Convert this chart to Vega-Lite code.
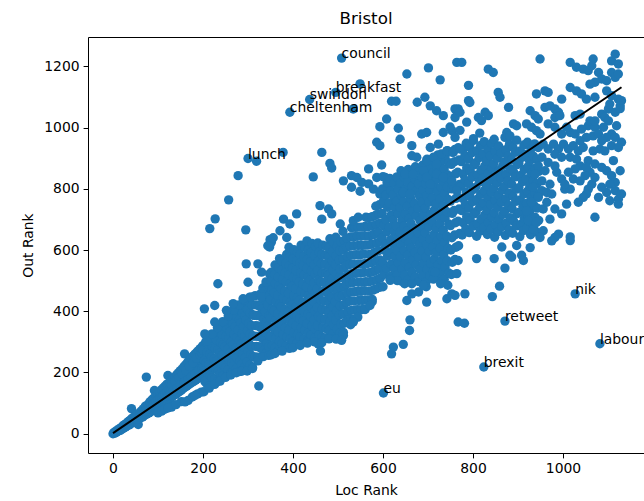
{"$schema":"https://vega.github.io/schema/vega-lite/v6.json","width":556,"height":416,"autosize":{"type":"none"},"padding":{"left":88,"top":37,"right":0,"bottom":48},"background":"white",
"title":{"text":"Bristol","font":"DejaVu Sans","fontSize":16.7,"fontWeight":"normal","color":"black","offset":9,"anchor":"middle"},
"config":{"view":{"stroke":null},"axis":{"domainColor":"black","domainWidth":1,"tickColor":"black","tickWidth":1,"tickSize":4.9,"labelFont":"DejaVu Sans","labelFontSize":13.9,"labelColor":"black","labelPadding":4,"titleFont":"DejaVu Sans","titleFontSize":13.9,"titleFontWeight":"normal","titleColor":"black","grid":false,"format":"d"}},
"datasets":{
"fit":[{"loc":0,"out":2},{"loc":1130,"out":1132}],
"lab":[{"loc":508,"out":1227,"word":"council"},{"loc":495,"out":1115,"word":"breakfast"},{"loc":437,"out":1092,"word":"swindon"},{"loc":393,"out":1050,"word":"cheltenham"},{"loc":300,"out":899,"word":"lunch"},{"loc":601,"out":133,"word":"eu"},{"loc":824,"out":218,"word":"brexit"},{"loc":871,"out":368,"word":"retweet"},{"loc":1027,"out":457,"word":"nik"},{"loc":1082,"out":294,"word":"labour"}],
"pts":[
{"loc":0,"out":0},{"loc":2,"out":4},{"loc":4,"out":2},{"loc":6,"out":8},{"loc":8,"out":5},{"loc":10,"out":12},{"loc":12,"out":9},{"loc":14,"out":16},{"loc":16,"out":11},{"loc":18,"out":20},{"loc":20,"out":15},{"loc":22,"out":26},{"loc":24,"out":19},{"loc":26,"out":30},{"loc":28,"out":22},{"loc":30,"out":34},{"loc":32,"out":26},{"loc":34,"out":40},{"loc":36,"out":29},{"loc":38,"out":44},{"loc":40,"out":33},{"loc":41,"out":82},{"loc":42,"out":50},{"loc":44,"out":37},{"loc":46,"out":54},{"loc":48,"out":40},{"loc":50,"out":58},{"loc":52,"out":43},{"loc":54,"out":64},{"loc":56,"out":30},{"loc":57,"out":47},{"loc":60,"out":70},{"loc":62,"out":52},{"loc":64,"out":76},{"loc":66,"out":55},{"loc":68,"out":82},{"loc":70,"out":60},{"loc":72,"out":90},{"loc":74,"out":185},{"loc":75,"out":64},{"loc":78,"out":96},{"loc":80,"out":68},{"loc":82,"out":104},{"loc":84,"out":72},{"loc":86,"out":110},{"loc":88,"out":78},{"loc":90,"out":116},{"loc":92,"out":141},{"loc":94,"out":82},{"loc":96,"out":124},{"loc":98,"out":88},{"loc":100,"out":130},{"loc":102,"out":92},{"loc":104,"out":136},{"loc":106,"out":96},{"loc":108,"out":144},{"loc":110,"out":100},{"loc":112,"out":150},{"loc":114,"out":104},{"loc":116,"out":156},{"loc":118,"out":108},{"loc":120,"out":162},{"loc":122,"out":190},{"loc":124,"out":112},{"loc":126,"out":168},{"loc":128,"out":116},{"loc":130,"out":87},{"loc":130,"out":176},{"loc":132,"out":122},{"loc":134,"out":180},{"loc":136,"out":126},{"loc":138,"out":186},{"loc":140,"out":130},{"loc":142,"out":194},{"loc":144,"out":134},{"loc":146,"out":200},{"loc":148,"out":138},{"loc":150,"out":206},{"loc":152,"out":105},{"loc":152,"out":142},{"loc":154,"out":212},{"loc":156,"out":148},{"loc":158,"out":220},{"loc":159,"out":261},{"loc":160,"out":152},{"loc":162,"out":226},{"loc":164,"out":156},{"loc":166,"out":234},{"loc":167,"out":109},{"loc":168,"out":160},{"loc":170,"out":240},{"loc":172,"out":164},{"loc":174,"out":248},{"loc":176,"out":120},{"loc":176,"out":168},{"loc":178,"out":254},{"loc":180,"out":172},{"loc":182,"out":260},{"loc":184,"out":176},{"loc":186,"out":266},{"loc":188,"out":130},{"loc":188,"out":180},{"loc":190,"out":272},{"loc":192,"out":184},{"loc":194,"out":278},{"loc":196,"out":136},{"loc":196,"out":190},{"loc":198,"out":284},{"loc":200,"out":194},{"loc":200,"out":288},
{"loc":60,"out":60},{"loc":64,"out":64},{"loc":68,"out":70},{"loc":72,"out":74},{"loc":76,"out":80},{"loc":80,"out":86},{"loc":84,"out":90},{"loc":88,"out":94},{"loc":92,"out":100},{"loc":96,"out":104},{"loc":100,"out":110},{"loc":104,"out":114},{"loc":108,"out":120},{"loc":112,"out":126},{"loc":116,"out":130},{"loc":120,"out":136},{"loc":124,"out":142},{"loc":128,"out":146},{"loc":132,"out":152},{"loc":136,"out":156},{"loc":140,"out":160},{"loc":144,"out":166},{"loc":148,"out":172},{"loc":152,"out":178},{"loc":156,"out":184},{"loc":160,"out":188},{"loc":164,"out":192},{"loc":168,"out":198},{"loc":172,"out":204},{"loc":176,"out":210},{"loc":180,"out":216},{"loc":184,"out":222},{"loc":188,"out":228},{"loc":192,"out":232},{"loc":196,"out":238},{"loc":200,"out":244},
{"loc":122,"out":124},{"loc":126,"out":128},{"loc":130,"out":160},{"loc":134,"out":140},{"loc":138,"out":170},{"loc":142,"out":150},{"loc":146,"out":182},{"loc":150,"out":160},{"loc":154,"out":195},{"loc":158,"out":168},{"loc":162,"out":206},{"loc":166,"out":176},{"loc":170,"out":220},{"loc":174,"out":186},{"loc":178,"out":232},{"loc":182,"out":196},{"loc":186,"out":246},{"loc":190,"out":206},{"loc":194,"out":256},{"loc":198,"out":214},{"loc":198,"out":262},
{"loc":100,"out":68},{"loc":108,"out":74},{"loc":115,"out":80},{"loc":122,"out":84},{"loc":140,"out":95},{"loc":160,"out":104},{"loc":182,"out":125},
{"loc":202,"out":137},{"loc":204,"out":171},{"loc":201,"out":205},{"loc":203,"out":239},{"loc":200,"out":273},
{"loc":208,"out":164},{"loc":210,"out":198},{"loc":207,"out":232},{"loc":209,"out":266},{"loc":206,"out":300},
{"loc":214,"out":157},{"loc":216,"out":191},{"loc":213,"out":225},{"loc":215,"out":259},{"loc":212,"out":293},
{"loc":220,"out":183},{"loc":222,"out":217},{"loc":219,"out":251},{"loc":221,"out":285},{"loc":218,"out":319},
{"loc":226,"out":177},{"loc":228,"out":211},{"loc":225,"out":245},{"loc":227,"out":279},{"loc":224,"out":313},
{"loc":232,"out":170},{"loc":234,"out":204},{"loc":231,"out":238},{"loc":233,"out":272},{"loc":230,"out":306},{"loc":233,"out":340},
{"loc":238,"out":196},{"loc":240,"out":230},{"loc":237,"out":264},{"loc":239,"out":298},{"loc":236,"out":332},
{"loc":244,"out":189},{"loc":246,"out":223},{"loc":243,"out":257},{"loc":245,"out":291},{"loc":242,"out":325},{"loc":245,"out":359},
{"loc":250,"out":216},{"loc":252,"out":250},{"loc":249,"out":284},{"loc":251,"out":318},{"loc":248,"out":352},
{"loc":256,"out":208},{"loc":258,"out":242},{"loc":255,"out":276},{"loc":257,"out":310},{"loc":254,"out":344},{"loc":257,"out":378},
{"loc":262,"out":198},{"loc":264,"out":232},{"loc":261,"out":266},{"loc":263,"out":300},{"loc":260,"out":334},{"loc":263,"out":368},
{"loc":268,"out":223},{"loc":270,"out":257},{"loc":267,"out":291},{"loc":269,"out":325},{"loc":266,"out":359},{"loc":269,"out":393},
{"loc":274,"out":213},{"loc":276,"out":247},{"loc":273,"out":281},{"loc":275,"out":315},{"loc":272,"out":349},{"loc":275,"out":383},
{"loc":280,"out":203},{"loc":282,"out":237},{"loc":279,"out":271},{"loc":281,"out":305},{"loc":278,"out":339},{"loc":281,"out":373},{"loc":279,"out":407},
{"loc":286,"out":226},{"loc":288,"out":260},{"loc":285,"out":294},{"loc":287,"out":328},{"loc":284,"out":362},{"loc":287,"out":396},
{"loc":292,"out":215},{"loc":294,"out":249},{"loc":291,"out":283},{"loc":293,"out":317},{"loc":290,"out":351},{"loc":293,"out":385},{"loc":291,"out":419},
{"loc":298,"out":235},{"loc":300,"out":269},{"loc":297,"out":303},{"loc":299,"out":337},{"loc":296,"out":371},{"loc":299,"out":405},{"loc":297,"out":439},
{"loc":304,"out":224},{"loc":306,"out":258},{"loc":303,"out":292},{"loc":305,"out":326},{"loc":302,"out":360},{"loc":305,"out":394},{"loc":303,"out":428},
{"loc":310,"out":217},{"loc":312,"out":251},{"loc":309,"out":285},{"loc":311,"out":319},{"loc":308,"out":353},{"loc":311,"out":387},{"loc":309,"out":421},
{"loc":316,"out":251},{"loc":318,"out":285},{"loc":315,"out":319},{"loc":317,"out":353},{"loc":314,"out":387},{"loc":317,"out":421},
{"loc":322,"out":250},{"loc":324,"out":284},{"loc":321,"out":318},{"loc":323,"out":352},{"loc":320,"out":386},{"loc":323,"out":420},
{"loc":328,"out":280},{"loc":330,"out":314},{"loc":327,"out":348},{"loc":329,"out":382},{"loc":326,"out":416},{"loc":329,"out":450},
{"loc":334,"out":272},{"loc":336,"out":306},{"loc":333,"out":340},{"loc":335,"out":374},{"loc":332,"out":408},{"loc":335,"out":442},{"loc":333,"out":476},
{"loc":340,"out":263},{"loc":342,"out":297},{"loc":339,"out":331},{"loc":341,"out":365},{"loc":338,"out":399},{"loc":341,"out":433},{"loc":339,"out":467},
{"loc":346,"out":284},{"loc":348,"out":318},{"loc":345,"out":352},{"loc":347,"out":386},{"loc":344,"out":420},{"loc":347,"out":454},{"loc":345,"out":488},{"loc":348,"out":522},
{"loc":214,"out":149},{"loc":226,"out":161},{"loc":238,"out":172},{"loc":250,"out":184},{"loc":262,"out":192},{"loc":274,"out":199},{"loc":286,"out":204},{"loc":298,"out":205},{"loc":310,"out":213},{"loc":322,"out":238},{"loc":334,"out":252},{"loc":346,"out":256},
{"loc":208,"out":303},{"loc":220,"out":326},{"loc":232,"out":347},{"loc":244,"out":366},{"loc":256,"out":385},{"loc":268,"out":404},{"loc":280,"out":421},{"loc":292,"out":436},{"loc":304,"out":446},{"loc":316,"out":451},{"loc":328,"out":457},{"loc":340,"out":496},
{"loc":203,"out":408},{"loc":204,"out":326},{"loc":226,"out":419},{"loc":226,"out":365},{"loc":233,"out":490},{"loc":252,"out":403},{"loc":267,"out":425},{"loc":289,"out":441},{"loc":307,"out":446},{"loc":330,"out":446},{"loc":348,"out":452},{"loc":296,"out":555},{"loc":322,"out":555},{"loc":330,"out":528},{"loc":300,"out":495},{"loc":348,"out":610},{"loc":352,"out":626},{"loc":324,"out":156},{"loc":215,"out":670},{"loc":227,"out":702},{"loc":257,"out":764},{"loc":278,"out":843},{"loc":300,"out":899},{"loc":319,"out":890},{"loc":295,"out":666},{"loc":349,"out":634},{"loc":344,"out":614},{"loc":371,"out":663},{"loc":378,"out":919},
{"loc":352,"out":258},{"loc":354,"out":288},{"loc":351,"out":318},{"loc":353,"out":348},{"loc":350,"out":378},{"loc":354,"out":408},{"loc":350,"out":438},{"loc":353,"out":468},{"loc":351,"out":498},{"loc":352,"out":528},
{"loc":360,"out":281},{"loc":362,"out":311},{"loc":359,"out":341},{"loc":361,"out":371},{"loc":358,"out":401},{"loc":362,"out":431},{"loc":358,"out":461},{"loc":361,"out":491},{"loc":359,"out":521},{"loc":360,"out":551},
{"loc":368,"out":272},{"loc":370,"out":302},{"loc":367,"out":332},{"loc":369,"out":362},{"loc":366,"out":392},{"loc":370,"out":422},{"loc":366,"out":452},{"loc":369,"out":482},{"loc":367,"out":512},{"loc":368,"out":542},{"loc":370,"out":572},
{"loc":376,"out":294},{"loc":378,"out":324},{"loc":375,"out":354},{"loc":377,"out":384},{"loc":374,"out":414},{"loc":378,"out":444},{"loc":374,"out":474},{"loc":377,"out":504},{"loc":375,"out":534},{"loc":376,"out":564},
{"loc":384,"out":286},{"loc":386,"out":316},{"loc":383,"out":346},{"loc":385,"out":376},{"loc":382,"out":406},{"loc":386,"out":436},{"loc":382,"out":466},{"loc":385,"out":496},{"loc":383,"out":526},{"loc":384,"out":556},{"loc":386,"out":586},
{"loc":392,"out":279},{"loc":394,"out":309},{"loc":391,"out":339},{"loc":393,"out":369},{"loc":390,"out":399},{"loc":394,"out":429},{"loc":390,"out":459},{"loc":393,"out":489},{"loc":391,"out":519},{"loc":392,"out":549},{"loc":394,"out":579},{"loc":391,"out":609},
{"loc":400,"out":301},{"loc":402,"out":331},{"loc":399,"out":361},{"loc":401,"out":391},{"loc":398,"out":421},{"loc":402,"out":451},{"loc":398,"out":481},{"loc":401,"out":511},{"loc":399,"out":541},{"loc":400,"out":571},{"loc":402,"out":601},
{"loc":408,"out":294},{"loc":410,"out":324},{"loc":407,"out":354},{"loc":409,"out":384},{"loc":406,"out":414},{"loc":410,"out":444},{"loc":406,"out":474},{"loc":409,"out":504},{"loc":407,"out":534},{"loc":408,"out":564},{"loc":410,"out":594},
{"loc":416,"out":316},{"loc":418,"out":346},{"loc":415,"out":376},{"loc":417,"out":406},{"loc":414,"out":436},{"loc":418,"out":466},{"loc":414,"out":496},{"loc":417,"out":526},{"loc":415,"out":556},{"loc":416,"out":586},{"loc":418,"out":616},
{"loc":424,"out":309},{"loc":426,"out":339},{"loc":423,"out":369},{"loc":425,"out":399},{"loc":422,"out":429},{"loc":426,"out":459},{"loc":422,"out":489},{"loc":425,"out":519},{"loc":423,"out":549},{"loc":424,"out":579},{"loc":426,"out":609},
{"loc":432,"out":300},{"loc":434,"out":330},{"loc":431,"out":360},{"loc":433,"out":390},{"loc":430,"out":420},{"loc":434,"out":450},{"loc":430,"out":480},{"loc":433,"out":510},{"loc":431,"out":540},{"loc":432,"out":570},{"loc":434,"out":600},{"loc":431,"out":630},
{"loc":440,"out":322},{"loc":442,"out":352},{"loc":439,"out":382},{"loc":441,"out":412},{"loc":438,"out":442},{"loc":442,"out":472},{"loc":438,"out":502},{"loc":441,"out":532},{"loc":439,"out":562},{"loc":440,"out":592},{"loc":442,"out":622},
{"loc":448,"out":312},{"loc":450,"out":342},{"loc":447,"out":372},{"loc":449,"out":402},{"loc":446,"out":432},{"loc":450,"out":462},{"loc":446,"out":492},{"loc":449,"out":522},{"loc":447,"out":552},{"loc":448,"out":582},{"loc":450,"out":612},
{"loc":456,"out":293},{"loc":458,"out":323},{"loc":455,"out":353},{"loc":457,"out":383},{"loc":454,"out":413},{"loc":458,"out":443},{"loc":454,"out":473},{"loc":457,"out":503},{"loc":455,"out":533},{"loc":456,"out":563},{"loc":458,"out":593},{"loc":455,"out":623},
{"loc":464,"out":316},{"loc":466,"out":346},{"loc":463,"out":376},{"loc":465,"out":406},{"loc":462,"out":436},{"loc":466,"out":466},{"loc":462,"out":496},{"loc":465,"out":526},{"loc":463,"out":556},{"loc":464,"out":586},{"loc":466,"out":616},
{"loc":472,"out":313},{"loc":474,"out":343},{"loc":471,"out":373},{"loc":473,"out":403},{"loc":470,"out":433},{"loc":474,"out":463},{"loc":470,"out":493},{"loc":473,"out":523},{"loc":471,"out":553},{"loc":472,"out":583},{"loc":474,"out":613},
{"loc":480,"out":337},{"loc":482,"out":367},{"loc":479,"out":397},{"loc":481,"out":427},{"loc":478,"out":457},{"loc":482,"out":487},{"loc":478,"out":517},{"loc":481,"out":547},{"loc":479,"out":577},{"loc":480,"out":607},{"loc":482,"out":637},
{"loc":488,"out":325},{"loc":490,"out":355},{"loc":487,"out":385},{"loc":489,"out":415},{"loc":486,"out":445},{"loc":490,"out":475},{"loc":486,"out":505},{"loc":489,"out":535},{"loc":487,"out":565},{"loc":488,"out":595},{"loc":490,"out":625},
{"loc":496,"out":312},{"loc":498,"out":342},{"loc":495,"out":372},{"loc":497,"out":402},{"loc":494,"out":432},{"loc":498,"out":462},{"loc":494,"out":492},{"loc":497,"out":522},{"loc":495,"out":552},{"loc":496,"out":582},{"loc":498,"out":612},{"loc":495,"out":642},
{"loc":504,"out":328},{"loc":506,"out":358},{"loc":503,"out":388},{"loc":505,"out":418},{"loc":502,"out":448},{"loc":506,"out":478},{"loc":502,"out":508},{"loc":505,"out":538},{"loc":503,"out":568},{"loc":504,"out":598},{"loc":506,"out":628},
{"loc":512,"out":331},{"loc":514,"out":361},{"loc":511,"out":391},{"loc":513,"out":421},{"loc":510,"out":451},{"loc":514,"out":481},{"loc":510,"out":511},{"loc":513,"out":541},{"loc":511,"out":571},{"loc":512,"out":601},{"loc":514,"out":631},{"loc":511,"out":661},
{"loc":520,"out":369},{"loc":522,"out":399},{"loc":519,"out":429},{"loc":521,"out":459},{"loc":518,"out":489},{"loc":522,"out":519},{"loc":518,"out":549},{"loc":521,"out":579},{"loc":519,"out":609},{"loc":520,"out":639},
{"loc":528,"out":373},{"loc":530,"out":403},{"loc":527,"out":433},{"loc":529,"out":463},{"loc":526,"out":493},{"loc":530,"out":523},{"loc":526,"out":553},{"loc":529,"out":583},{"loc":527,"out":613},{"loc":528,"out":643},{"loc":530,"out":673},
{"loc":536,"out":374},{"loc":538,"out":404},{"loc":535,"out":434},{"loc":537,"out":464},{"loc":534,"out":494},{"loc":538,"out":524},{"loc":534,"out":554},{"loc":537,"out":584},{"loc":535,"out":614},{"loc":536,"out":644},{"loc":538,"out":674},
{"loc":544,"out":405},{"loc":546,"out":435},{"loc":543,"out":465},{"loc":545,"out":495},{"loc":542,"out":525},{"loc":546,"out":555},{"loc":542,"out":585},{"loc":545,"out":615},{"loc":543,"out":645},{"loc":544,"out":675},
{"loc":552,"out":405},{"loc":554,"out":435},{"loc":551,"out":465},{"loc":553,"out":495},{"loc":550,"out":525},{"loc":554,"out":555},{"loc":550,"out":585},{"loc":553,"out":615},{"loc":551,"out":645},{"loc":552,"out":675},
{"loc":560,"out":407},{"loc":562,"out":437},{"loc":559,"out":467},{"loc":561,"out":497},{"loc":558,"out":527},{"loc":562,"out":557},{"loc":558,"out":587},{"loc":561,"out":617},{"loc":559,"out":647},{"loc":560,"out":677},{"loc":562,"out":707},
{"loc":568,"out":436},{"loc":570,"out":466},{"loc":567,"out":496},{"loc":569,"out":526},{"loc":566,"out":556},{"loc":570,"out":586},{"loc":566,"out":616},{"loc":569,"out":646},{"loc":567,"out":676},{"loc":568,"out":706},
{"loc":576,"out":439},{"loc":578,"out":469},{"loc":575,"out":499},{"loc":577,"out":529},{"loc":574,"out":559},{"loc":578,"out":589},{"loc":574,"out":619},{"loc":577,"out":649},{"loc":575,"out":679},{"loc":576,"out":709},
{"loc":584,"out":473},{"loc":586,"out":503},{"loc":583,"out":533},{"loc":585,"out":563},{"loc":582,"out":593},{"loc":586,"out":623},{"loc":582,"out":653},{"loc":585,"out":683},{"loc":583,"out":713},{"loc":584,"out":743},
{"loc":592,"out":478},{"loc":594,"out":508},{"loc":591,"out":538},{"loc":593,"out":568},{"loc":590,"out":598},{"loc":594,"out":628},{"loc":590,"out":658},{"loc":593,"out":688},{"loc":591,"out":718},{"loc":592,"out":748},
{"loc":360,"out":262},{"loc":376,"out":270},{"loc":400,"out":281},{"loc":416,"out":288},{"loc":432,"out":296},{"loc":448,"out":300},{"loc":464,"out":297},{"loc":480,"out":310},{"loc":496,"out":309},{"loc":512,"out":321},{"loc":528,"out":356},{"loc":544,"out":381},{"loc":560,"out":406},{"loc":576,"out":431},
{"loc":461,"out":270},{"loc":508,"out":305},{"loc":534,"out":365},{"loc":571,"out":419},{"loc":408,"out":718},{"loc":379,"out":701},{"loc":393,"out":685},{"loc":356,"out":640},{"loc":386,"out":641},{"loc":460,"out":745},{"loc":479,"out":734},{"loc":486,"out":718},{"loc":464,"out":701},{"loc":505,"out":685},{"loc":534,"out":696},{"loc":545,"out":707},
{"loc":464,"out":919},{"loc":482,"out":883},{"loc":486,"out":868},{"loc":445,"out":839},{"loc":568,"out":865},{"loc":597,"out":878},{"loc":512,"out":826},{"loc":530,"out":843},{"loc":542,"out":837},{"loc":553,"out":821},{"loc":530,"out":805},{"loc":549,"out":792},{"loc":568,"out":816},{"loc":586,"out":837},{"loc":579,"out":799},{"loc":593,"out":783},{"loc":605,"out":837},{"loc":612,"out":799},{"loc":627,"out":772},
{"loc":508,"out":1227},{"loc":495,"out":1115},{"loc":549,"out":1143},{"loc":437,"out":1092},{"loc":393,"out":1050},{"loc":534,"out":1061},{"loc":586,"out":952},{"loc":593,"out":941},{"loc":593,"out":1003},{"loc":608,"out":1028},
{"loc":600,"out":480},{"loc":602,"out":520},{"loc":599,"out":560},{"loc":601,"out":600},{"loc":598,"out":640},{"loc":602,"out":680},{"loc":598,"out":720},{"loc":601,"out":760},{"loc":599,"out":800},{"loc":600,"out":840},
{"loc":608,"out":540},{"loc":610,"out":580},{"loc":607,"out":620},{"loc":609,"out":660},{"loc":606,"out":700},{"loc":610,"out":740},{"loc":606,"out":780},{"loc":609,"out":820},
{"loc":616,"out":514},{"loc":618,"out":554},{"loc":615,"out":594},{"loc":617,"out":634},{"loc":614,"out":674},{"loc":618,"out":714},{"loc":614,"out":754},{"loc":617,"out":794},{"loc":615,"out":834},
{"loc":624,"out":539},{"loc":626,"out":579},{"loc":623,"out":619},{"loc":625,"out":659},{"loc":622,"out":699},{"loc":626,"out":739},{"loc":622,"out":779},{"loc":625,"out":819},
{"loc":632,"out":519},{"loc":634,"out":559},{"loc":631,"out":599},{"loc":633,"out":639},{"loc":630,"out":679},{"loc":634,"out":719},{"loc":630,"out":759},{"loc":633,"out":799},{"loc":631,"out":839},
{"loc":640,"out":499},{"loc":642,"out":539},{"loc":639,"out":579},{"loc":641,"out":619},{"loc":638,"out":659},{"loc":642,"out":699},{"loc":638,"out":739},{"loc":641,"out":779},{"loc":639,"out":819},{"loc":640,"out":859},
{"loc":648,"out":518},{"loc":650,"out":558},{"loc":647,"out":598},{"loc":649,"out":638},{"loc":646,"out":678},{"loc":650,"out":718},{"loc":646,"out":758},{"loc":649,"out":798},{"loc":647,"out":838},
{"loc":656,"out":503},{"loc":658,"out":543},{"loc":655,"out":583},{"loc":657,"out":623},{"loc":654,"out":663},{"loc":658,"out":703},{"loc":654,"out":743},{"loc":657,"out":783},{"loc":655,"out":823},{"loc":656,"out":863},
{"loc":664,"out":528},{"loc":666,"out":568},{"loc":663,"out":608},{"loc":665,"out":648},{"loc":662,"out":688},{"loc":666,"out":728},{"loc":662,"out":768},{"loc":665,"out":808},{"loc":663,"out":848},
{"loc":672,"out":512},{"loc":674,"out":552},{"loc":671,"out":592},{"loc":673,"out":632},{"loc":670,"out":672},{"loc":674,"out":712},{"loc":670,"out":752},{"loc":673,"out":792},{"loc":671,"out":832},{"loc":672,"out":872},
{"loc":680,"out":497},{"loc":682,"out":537},{"loc":679,"out":577},{"loc":681,"out":617},{"loc":678,"out":657},{"loc":682,"out":697},{"loc":678,"out":737},{"loc":681,"out":777},{"loc":679,"out":817},{"loc":680,"out":857},
{"loc":688,"out":517},{"loc":690,"out":557},{"loc":687,"out":597},{"loc":689,"out":637},{"loc":686,"out":677},{"loc":690,"out":717},{"loc":686,"out":757},{"loc":689,"out":797},{"loc":687,"out":837},{"loc":688,"out":877},
{"loc":696,"out":497},{"loc":698,"out":537},{"loc":695,"out":577},{"loc":697,"out":617},{"loc":694,"out":657},{"loc":698,"out":697},{"loc":694,"out":737},{"loc":697,"out":777},{"loc":695,"out":817},{"loc":696,"out":857},{"loc":698,"out":897},
{"loc":704,"out":516},{"loc":706,"out":556},{"loc":703,"out":596},{"loc":705,"out":636},{"loc":702,"out":676},{"loc":706,"out":716},{"loc":702,"out":756},{"loc":705,"out":796},{"loc":703,"out":836},{"loc":704,"out":876},
{"loc":712,"out":531},{"loc":714,"out":571},{"loc":711,"out":611},{"loc":713,"out":651},{"loc":710,"out":691},{"loc":714,"out":731},{"loc":710,"out":771},{"loc":713,"out":811},{"loc":711,"out":851},{"loc":712,"out":891},
{"loc":720,"out":511},{"loc":722,"out":551},{"loc":719,"out":591},{"loc":721,"out":631},{"loc":718,"out":671},{"loc":722,"out":711},{"loc":718,"out":751},{"loc":721,"out":791},{"loc":719,"out":831},{"loc":720,"out":871},{"loc":722,"out":911},
{"loc":728,"out":526},{"loc":730,"out":566},{"loc":727,"out":606},{"loc":729,"out":646},{"loc":726,"out":686},{"loc":730,"out":726},{"loc":726,"out":766},{"loc":729,"out":806},{"loc":727,"out":846},{"loc":728,"out":886},
{"loc":736,"out":505},{"loc":738,"out":545},{"loc":735,"out":585},{"loc":737,"out":625},{"loc":734,"out":665},{"loc":738,"out":705},{"loc":734,"out":745},{"loc":737,"out":785},{"loc":735,"out":825},{"loc":736,"out":865},{"loc":738,"out":905},
{"loc":744,"out":485},{"loc":746,"out":525},{"loc":743,"out":565},{"loc":745,"out":605},{"loc":742,"out":645},{"loc":746,"out":685},{"loc":742,"out":725},{"loc":745,"out":765},{"loc":743,"out":805},{"loc":744,"out":845},{"loc":746,"out":885},{"loc":743,"out":925},
{"loc":752,"out":520},{"loc":754,"out":560},{"loc":751,"out":600},{"loc":753,"out":640},{"loc":750,"out":680},{"loc":754,"out":720},{"loc":750,"out":760},{"loc":753,"out":800},{"loc":751,"out":840},{"loc":752,"out":880},{"loc":754,"out":920},
{"loc":760,"out":569},{"loc":762,"out":609},{"loc":759,"out":649},{"loc":761,"out":689},{"loc":758,"out":729},{"loc":762,"out":769},{"loc":758,"out":809},{"loc":761,"out":849},{"loc":759,"out":889},{"loc":760,"out":929},
{"loc":768,"out":614},{"loc":770,"out":654},{"loc":767,"out":694},{"loc":769,"out":734},{"loc":766,"out":774},{"loc":770,"out":814},{"loc":766,"out":854},{"loc":769,"out":894},{"loc":767,"out":934},
{"loc":776,"out":649},{"loc":778,"out":689},{"loc":775,"out":729},{"loc":777,"out":769},{"loc":774,"out":809},{"loc":778,"out":849},{"loc":774,"out":889},{"loc":777,"out":929},
{"loc":784,"out":669},{"loc":786,"out":709},{"loc":783,"out":749},{"loc":785,"out":789},{"loc":782,"out":829},{"loc":786,"out":869},{"loc":782,"out":909},{"loc":785,"out":949},
{"loc":792,"out":657},{"loc":794,"out":697},{"loc":791,"out":737},{"loc":793,"out":777},{"loc":790,"out":817},{"loc":794,"out":857},{"loc":790,"out":897},{"loc":793,"out":937},
{"loc":800,"out":678},{"loc":802,"out":718},{"loc":799,"out":758},{"loc":801,"out":798},{"loc":798,"out":838},{"loc":802,"out":878},{"loc":798,"out":918},{"loc":801,"out":958},
{"loc":808,"out":645},{"loc":810,"out":685},{"loc":807,"out":725},{"loc":809,"out":765},{"loc":806,"out":805},{"loc":810,"out":845},{"loc":806,"out":885},{"loc":809,"out":925},
{"loc":816,"out":662},{"loc":818,"out":702},{"loc":815,"out":742},{"loc":817,"out":782},{"loc":814,"out":822},{"loc":818,"out":862},{"loc":814,"out":902},{"loc":817,"out":942},{"loc":815,"out":982},
{"loc":824,"out":674},{"loc":826,"out":714},{"loc":823,"out":754},{"loc":825,"out":794},{"loc":822,"out":834},{"loc":826,"out":874},{"loc":822,"out":914},{"loc":825,"out":954},
{"loc":832,"out":651},{"loc":834,"out":691},{"loc":831,"out":731},{"loc":833,"out":771},{"loc":830,"out":811},{"loc":834,"out":851},{"loc":830,"out":891},{"loc":833,"out":931},
{"loc":840,"out":668},{"loc":842,"out":708},{"loc":839,"out":748},{"loc":841,"out":788},{"loc":838,"out":828},{"loc":842,"out":868},{"loc":838,"out":908},{"loc":841,"out":948},
{"loc":848,"out":642},{"loc":850,"out":682},{"loc":847,"out":722},{"loc":849,"out":762},{"loc":846,"out":802},{"loc":850,"out":842},{"loc":846,"out":882},{"loc":849,"out":922},{"loc":847,"out":962},
{"loc":856,"out":660},{"loc":858,"out":700},{"loc":855,"out":740},{"loc":857,"out":780},{"loc":854,"out":820},{"loc":858,"out":860},{"loc":854,"out":900},{"loc":857,"out":940},
{"loc":864,"out":676},{"loc":866,"out":716},{"loc":863,"out":756},{"loc":865,"out":796},{"loc":862,"out":836},{"loc":866,"out":876},{"loc":862,"out":916},
{"loc":872,"out":648},{"loc":874,"out":688},{"loc":871,"out":728},{"loc":873,"out":768},{"loc":870,"out":808},{"loc":874,"out":848},{"loc":870,"out":888},{"loc":873,"out":928},{"loc":871,"out":968},
{"loc":880,"out":666},{"loc":882,"out":706},{"loc":879,"out":746},{"loc":881,"out":786},{"loc":878,"out":826},{"loc":882,"out":866},{"loc":878,"out":906},{"loc":881,"out":946},
{"loc":888,"out":655},{"loc":890,"out":695},{"loc":887,"out":735},{"loc":889,"out":775},{"loc":886,"out":815},{"loc":890,"out":855},{"loc":886,"out":895},{"loc":889,"out":935},
{"loc":896,"out":679},{"loc":898,"out":719},{"loc":895,"out":759},{"loc":897,"out":799},{"loc":894,"out":839},{"loc":898,"out":879},{"loc":894,"out":919},{"loc":897,"out":959},
{"loc":904,"out":644},{"loc":906,"out":684},{"loc":903,"out":724},{"loc":905,"out":764},{"loc":902,"out":804},{"loc":906,"out":844},{"loc":902,"out":884},{"loc":905,"out":924},
{"loc":912,"out":663},{"loc":914,"out":703},{"loc":911,"out":743},{"loc":913,"out":783},{"loc":910,"out":823},{"loc":914,"out":863},{"loc":910,"out":903},{"loc":913,"out":943},
{"loc":920,"out":672},{"loc":922,"out":712},{"loc":919,"out":752},{"loc":921,"out":792},{"loc":918,"out":832},{"loc":922,"out":872},{"loc":918,"out":912},{"loc":921,"out":952},
{"loc":928,"out":650},{"loc":930,"out":690},{"loc":927,"out":730},{"loc":929,"out":770},{"loc":926,"out":810},{"loc":930,"out":850},{"loc":926,"out":890},{"loc":929,"out":930},
{"loc":936,"out":667},{"loc":938,"out":707},{"loc":935,"out":747},{"loc":937,"out":787},{"loc":934,"out":827},{"loc":938,"out":867},{"loc":934,"out":907},{"loc":937,"out":947},
{"loc":944,"out":657},{"loc":946,"out":697},{"loc":943,"out":737},{"loc":945,"out":777},{"loc":942,"out":817},{"loc":946,"out":857},{"loc":942,"out":897},{"loc":945,"out":937},
{"loc":616,"out":505},{"loc":632,"out":500},{"loc":648,"out":490},{"loc":664,"out":490},{"loc":696,"out":480},{"loc":712,"out":505},{"loc":728,"out":490},
{"loc":601,"out":133},{"loc":623,"out":283},{"loc":619,"out":261},{"loc":645,"out":292},{"loc":659,"out":337},{"loc":660,"out":372},{"loc":616,"out":501},{"loc":653,"out":435},{"loc":664,"out":457},{"loc":679,"out":463},{"loc":697,"out":430},{"loc":690,"out":484},{"loc":716,"out":528},{"loc":742,"out":441},{"loc":753,"out":457},{"loc":764,"out":523},{"loc":767,"out":365},{"loc":781,"out":361},{"loc":760,"out":452},{"loc":782,"out":457},{"loc":843,"out":448},{"loc":859,"out":482},{"loc":871,"out":541},{"loc":847,"out":572},{"loc":808,"out":572},{"loc":767,"out":566},{"loc":897,"out":615},{"loc":908,"out":583},{"loc":912,"out":566},{"loc":927,"out":608},{"loc":882,"out":583},{"loc":886,"out":577},{"loc":864,"out":610},{"loc":824,"out":218},{"loc":871,"out":368},{"loc":1027,"out":457},{"loc":1082,"out":294},
{"loc":619,"out":1086},{"loc":629,"out":1086},{"loc":653,"out":1175},{"loc":701,"out":1195},{"loc":727,"out":1156},{"loc":764,"out":1213},{"loc":790,"out":1138},{"loc":676,"out":1083},{"loc":693,"out":1099},{"loc":705,"out":1071},{"loc":719,"out":1055},{"loc":734,"out":1039},{"loc":760,"out":1061},{"loc":760,"out":1033},{"loc":634,"out":998},{"loc":638,"out":962},{"loc":686,"out":979},{"loc":697,"out":984},{"loc":664,"out":941},{"loc":705,"out":935},{"loc":723,"out":946},{"loc":734,"out":984},{"loc":753,"out":990},{"loc":760,"out":968},{"loc":664,"out":908},{"loc":675,"out":903},{"loc":697,"out":892},{"loc":712,"out":903},{"loc":719,"out":881},{"loc":730,"out":914},{"loc":742,"out":924},{"loc":756,"out":919},{"loc":771,"out":930},{"loc":649,"out":848},{"loc":667,"out":848},{"loc":690,"out":859},{"loc":697,"out":837},{"loc":705,"out":815},{"loc":719,"out":848},{"loc":734,"out":837},{"loc":753,"out":826},{"loc":764,"out":794},{"loc":645,"out":788},{"loc":660,"out":783},{"loc":749,"out":1002},{"loc":786,"out":1018},{"loc":771,"out":991},{"loc":801,"out":964},
{"loc":775,"out":1213},{"loc":834,"out":1191},{"loc":845,"out":1180},{"loc":949,"out":1224},{"loc":1016,"out":1213},{"loc":1030,"out":1197},{"loc":1045,"out":1191},{"loc":1056,"out":1186},{"loc":1067,"out":1224},{"loc":1064,"out":1202},{"loc":1108,"out":1218},{"loc":1116,"out":1240},{"loc":1123,"out":1208},{"loc":1108,"out":1180},{"loc":1116,"out":1164},{"loc":1123,"out":1175},{"loc":1079,"out":1180},{"loc":1086,"out":1159},{"loc":1097,"out":1153},{"loc":1071,"out":1148},{"loc":1060,"out":1142},{"loc":1016,"out":1131},{"loc":1030,"out":1120},{"loc":1041,"out":1110},{"loc":1052,"out":1093},{"loc":1071,"out":1099},{"loc":1097,"out":1120},{"loc":1108,"out":1104},{"loc":1123,"out":1093},{"loc":1130,"out":1088},{"loc":790,"out":1088},{"loc":793,"out":1082},{"loc":856,"out":1115},{"loc":860,"out":1099},{"loc":941,"out":1110},{"loc":960,"out":1120},{"loc":967,"out":1115},{"loc":997,"out":1093},{"loc":767,"out":1061},{"loc":771,"out":1050},{"loc":879,"out":1066},{"loc":827,"out":1050},{"loc":834,"out":1039},{"loc":812,"out":1033},{"loc":819,"out":1023},{"loc":960,"out":1066},{"loc":971,"out":1071},{"loc":982,"out":1061},{"loc":990,"out":1050},{"loc":927,"out":1055},{"loc":938,"out":1039},{"loc":945,"out":1028},{"loc":890,"out":1012},{"loc":897,"out":1006},{"loc":875,"out":984},{"loc":882,"out":973},{"loc":919,"out":1012},{"loc":930,"out":1001},{"loc":941,"out":990},{"loc":949,"out":979},{"loc":982,"out":1033},{"loc":993,"out":1039},{"loc":1027,"out":1039},{"loc":1038,"out":1044},{"loc":1016,"out":984},{"loc":1056,"out":1006},{"loc":1060,"out":1022},{"loc":1071,"out":1001},{"loc":1086,"out":1044},{"loc":1093,"out":1033},{"loc":1101,"out":1061},{"loc":1104,"out":1077},{"loc":1116,"out":1050},{"loc":1127,"out":1071},{"loc":1101,"out":1022},{"loc":1108,"out":979},{"loc":1119,"out":1006},{"loc":1067,"out":973},{"loc":1082,"out":930},{"loc":1093,"out":924},{"loc":1130,"out":952},{"loc":1108,"out":941},{"loc":1112,"out":892},{"loc":1127,"out":859},{"loc":1086,"out":870},{"loc":1097,"out":859},{"loc":1108,"out":843},{"loc":1116,"out":821},{"loc":1097,"out":788},{"loc":1123,"out":766},{"loc":1123,"out":750},{"loc":1071,"out":707},{"loc":1064,"out":815},{"loc":1056,"out":799},{"loc":1052,"out":783},{"loc":1045,"out":772},{"loc":1034,"out":756},{"loc":1060,"out":854},{"loc":1038,"out":875},{"loc":1004,"out":799},{"loc":1016,"out":799},{"loc":1008,"out":750},{"loc":997,"out":832},{"loc":1004,"out":815},{"loc":986,"out":854},{"loc":953,"out":794},{"loc":964,"out":788},{"loc":975,"out":783},{"loc":956,"out":734},{"loc":982,"out":734},{"loc":997,"out":718},{"loc":919,"out":728},{"loc":1016,"out":643},{"loc":990,"out":652},{"loc":934,"out":668},{"loc":956,"out":663},{"loc":982,"out":641},{"loc":975,"out":630},{"loc":1127,"out":1062},{"loc":1016,"out":631},
{"loc":945,"out":935},{"loc":956,"out":946},{"loc":967,"out":930},{"loc":979,"out":946},{"loc":990,"out":930},{"loc":1001,"out":946},{"loc":1012,"out":930},{"loc":1023,"out":941},{"loc":1034,"out":924},{"loc":1045,"out":935},{"loc":982,"out":913},{"loc":997,"out":903},{"loc":1016,"out":903},{"loc":1030,"out":897},{"loc":953,"out":903},{"loc":967,"out":886},{"loc":982,"out":875},{"loc":945,"out":875},{"loc":960,"out":859},{"loc":938,"out":848},{"loc":953,"out":826},{"loc":971,"out":815},{"loc":934,"out":805},{"loc":945,"out":772},{"loc":964,"out":756},{"loc":930,"out":756},{"loc":923,"out":696},{"loc":941,"out":690},{"loc":971,"out":701},{"loc":949,"out":641},{"loc":967,"out":1012},{"loc":982,"out":1001},{"loc":997,"out":979},{"loc":1008,"out":1001},{"loc":1027,"out":979},{"loc":1041,"out":995},{"loc":1052,"out":968},{"loc":1038,"out":957},{"loc":1071,"out":1022},{"loc":1079,"out":979},{"loc":1090,"out":1001},{"loc":1097,"out":968},{"loc":1116,"out":968},{"loc":1123,"out":935},{"loc":1086,"out":957},{"loc":1067,"out":924},{"loc":1056,"out":892},{"loc":1071,"out":881},{"loc":1052,"out":870},{"loc":1027,"out":865},{"loc":1012,"out":854},{"loc":1023,"out":832},{"loc":1038,"out":826},{"loc":1049,"out":843},{"loc":1071,"out":837},{"loc":1086,"out":805},{"loc":1104,"out":815},{"loc":1116,"out":794},{"loc":1130,"out":783},{"loc":1104,"out":761},{"loc":1079,"out":772}
]},
"layer":[
{"data":{"name":"pts"},"mark":{"type":"circle","size":88,"color":"#1f77b4","opacity":1},
 "encoding":{"x":{"field":"loc","type":"quantitative","scale":{"domain":[-55.6,1180],"nice":false,"zero":false},"axis":{"orient":"bottom","values":[0,200,400,600,800,1000],"title":"Loc Rank","titlePadding":8}},
 "y":{"field":"out","type":"quantitative","scale":{"domain":[-63,1296],"nice":false,"zero":false},"axis":{"values":[0,200,400,600,800,1000,1200],"title":"Out Rank","titlePadding":8}}}},
{"data":{"name":"fit"},"mark":{"type":"line","color":"black","strokeWidth":2},
 "encoding":{"x":{"field":"loc","type":"quantitative","axis":{"orient":"top","labels":false,"ticks":false,"title":null,"domain":true}},"y":{"field":"out","type":"quantitative"}}},
{"data":{"name":"lab"},"mark":{"type":"text","align":"left","baseline":"alphabetic","font":"DejaVu Sans","fontSize":13.9,"color":"black"},
 "encoding":{"x":{"field":"loc","type":"quantitative","axis":null},"y":{"field":"out","type":"quantitative"},"text":{"field":"word"}}}
],
"resolve":{"axis":{"x":"independent"}}
}
